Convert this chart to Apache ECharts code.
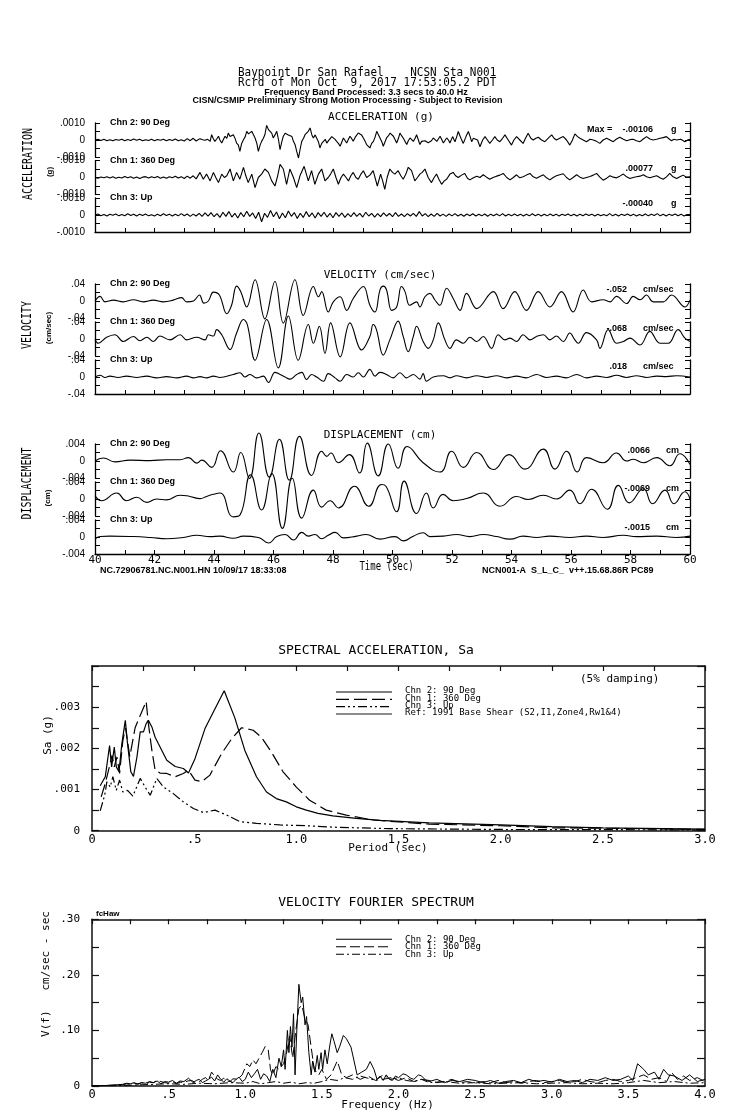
<!DOCTYPE html>
<html><head><meta charset="utf-8">
<script src="https://cdn.jsdelivr.net/npm/echarts/dist/echarts.min.js"></script>
<style>html,body{margin:0;padding:0;background:#fff}#c{width:739px;height:1115px}</style>
</head><body><div id="c"></div>
<script>
// ---------------- DATA ----------------
// acceleration in 1e-5 g
const accChn2 = [[40.0,0],[40.1,4],[40.2,-3],[40.3,5],[40.4,-4],[40.5,2],[40.6,-5],[40.7,3],[40.8,-2],[40.9,5],[41.0,-4],[41.1,3],[41.2,-3],[41.3,6],[41.4,-2],[41.5,4],[41.6,-5],[41.7,2],[41.8,-3],[41.9,5],[42.0,-4],[42.1,3],[42.2,-2],[42.3,4],[42.4,-5],[42.5,3],[42.6,-3],[42.7,6],[42.8,-4],[42.9,2],[43.0,-6],[43.1,8],[43.2,-4],[43.3,10],[43.4,-6],[43.53,8],[43.62,2],[43.7,-2],[43.79,4],[43.87,-8],[43.92,31],[43.97,10],[44.03,-8],[44.09,6],[44.15,22],[44.2,0],[44.26,-18],[44.32,4],[44.37,22],[44.43,10],[44.48,41],[44.54,20],[44.59,12],[44.65,31],[44.71,8],[44.76,-18],[44.82,-30],[44.87,-67],[44.93,-20],[44.99,2],[45.05,20],[45.1,51],[45.16,36],[45.21,31],[45.27,51],[45.33,30],[45.38,12],[45.44,-20],[45.49,-67],[45.55,-30],[45.6,-8],[45.66,10],[45.71,31],[45.77,86],[45.83,61],[45.88,71],[45.94,40],[45.99,12],[46.05,30],[46.11,51],[46.17,0],[46.22,-57],[46.28,-10],[46.33,22],[46.39,40],[46.44,51],[46.5,30],[46.56,41],[46.62,20],[46.67,-8],[46.73,-30],[46.78,-67],[46.84,-106],[46.9,-50],[46.95,-8],[47.01,10],[47.06,31],[47.12,40],[47.17,51],[47.23,71],[47.29,30],[47.34,12],[47.4,30],[47.45,22],[47.51,-10],[47.56,-47],[47.62,-20],[47.68,-8],[47.74,4],[47.79,-18],[47.85,-4],[47.9,2],[47.96,20],[48.01,12],[48.07,4],[48.12,-8],[48.18,-20],[48.24,-37],[48.3,-10],[48.35,12],[48.41,-4],[48.46,-18],[48.52,4],[48.57,22],[48.63,8],[48.68,-8],[48.76,20],[48.85,41],[48.91,51],[48.96,30],[49.02,12],[49.08,-8],[49.13,-27],[49.19,-30],[49.24,-47],[49.3,-20],[49.36,-8],[49.42,20],[49.47,51],[49.53,30],[49.58,22],[49.64,-10],[49.69,-37],[49.75,-10],[49.8,12],[49.86,24],[49.92,41],[49.97,30],[50.03,22],[50.08,4],[50.14,-18],[50.2,10],[50.25,41],[50.31,24],[50.36,12],[50.42,-8],[50.48,-27],[50.53,-4],[50.59,12],[50.65,4],[50.7,-8],[50.76,10],[50.81,31],[50.87,0],[50.92,-27],[50.98,-8],[51.04,2],[51.09,-4],[51.15,-8],[51.2,-16],[51.26,-27],[51.31,-4],[51.37,12],[51.43,4],[51.49,-8],[51.54,6],[51.6,22],[51.65,4],[51.71,-18],[51.76,-4],[51.82,12],[51.88,0],[51.93,-18],[52.02,20],[52.1,-10],[52.16,20],[52.21,50],[52.3,10],[52.38,-20],[52.47,20],[52.55,50],[52.61,20],[52.66,-10],[52.72,10],[52.77,20],[52.86,0],[52.94,-40],[53.03,0],[53.11,20],[53.19,0],[53.27,-20],[53.36,0],[53.44,20],[53.52,0],[53.61,-10],[53.7,10],[53.78,30],[53.89,0],[54.0,-30],[54.08,0],[54.17,20],[54.28,0],[54.39,-20],[54.47,10],[54.56,40],[54.65,10],[54.73,0],[54.82,10],[54.9,16],[55.01,0],[55.12,-10],[55.23,10],[55.35,30],[55.43,10],[55.51,0],[55.62,10],[55.74,20],[55.85,0],[55.96,-30],[56.05,0],[56.13,36],[56.22,20],[56.3,10],[56.41,0],[56.52,-10],[56.64,4],[56.75,0],[56.86,-8],[56.97,-20],[57.08,0],[57.2,10],[57.31,0],[57.42,-10],[57.53,6],[57.64,16],[57.76,4],[57.87,-4],[57.98,2],[58.09,4],[58.2,-4],[58.32,-10],[58.43,6],[58.54,20],[58.65,6],[58.76,0],[58.88,4],[58.99,10],[59.1,14],[59.21,20],[59.3,6],[59.38,-4],[59.46,4],[59.55,0],[59.69,4],[59.83,-10],[59.92,0],[60.0,4]];
const accChn1 = [[40.0,0],[40.1,-4],[40.2,3],[40.3,-2],[40.4,5],[40.5,-3],[40.6,4],[40.7,-5],[40.8,2],[40.9,-3],[41.0,6],[41.1,-2],[41.2,4],[41.3,-4],[41.4,3],[41.5,-6],[41.6,2],[41.7,5],[41.8,-3],[41.9,4],[42.0,-2],[42.1,6],[42.2,-4],[42.3,3],[42.4,-5],[42.5,4],[42.6,-2],[42.7,7],[42.8,-3],[42.9,5],[43.0,-6],[43.1,8],[43.2,-4],[43.3,10],[43.4,-8],[43.53,30],[43.64,-10],[43.75,20],[43.87,-20],[43.98,30],[44.06,0],[44.15,-30],[44.26,20],[44.35,0],[44.43,10],[44.54,50],[44.65,-20],[44.76,30],[44.87,-10],[44.99,60],[45.07,10],[45.15,-30],[45.27,20],[45.38,-60],[45.49,0],[45.6,20],[45.71,50],[45.83,30],[45.94,-20],[46.05,-50],[46.14,10],[46.22,77],[46.33,50],[46.44,-40],[46.55,50],[46.67,0],[46.78,-60],[46.89,10],[47.03,66],[47.17,-20],[47.28,40],[47.39,-40],[47.51,20],[47.62,50],[47.73,-20],[47.84,0],[47.92,20],[48.01,50],[48.1,0],[48.18,-40],[48.27,0],[48.35,20],[48.44,0],[48.52,-20],[48.6,10],[48.68,30],[48.77,0],[48.85,-10],[48.94,20],[49.02,40],[49.13,0],[49.24,14],[49.35,40],[49.49,-50],[49.6,20],[49.67,-20],[49.74,-70],[49.82,0],[49.91,50],[50.0,30],[50.08,20],[50.19,40],[50.28,10],[50.36,-10],[50.45,20],[50.53,60],[50.64,40],[50.75,-20],[50.84,0],[50.92,20],[51.0,30],[51.09,50],[51.2,0],[51.31,-30],[51.4,0],[51.48,20],[51.56,-10],[51.65,-40],[51.74,-20],[51.82,-10],[51.93,20],[52.04,30],[52.12,10],[52.21,0],[52.32,14],[52.43,24],[52.52,-4],[52.6,-14],[52.72,-2],[52.83,8],[52.94,0],[53.05,16],[53.16,2],[53.27,-10],[53.38,0],[53.5,8],[53.61,14],[53.72,24],[53.84,0],[53.95,-14],[54.06,0],[54.17,16],[54.28,-2],[54.39,4],[54.5,14],[54.62,24],[54.73,4],[54.84,-4],[54.95,6],[55.07,16],[55.18,-2],[55.29,-14],[55.4,0],[55.51,10],[55.62,16],[55.74,22],[55.85,0],[55.96,-14],[56.07,0],[56.19,16],[56.3,2],[56.41,-6],[56.52,0],[56.64,6],[56.75,14],[56.86,24],[56.97,2],[57.08,-16],[57.2,-4],[57.31,10],[57.42,2],[57.53,-2],[57.64,8],[57.76,20],[57.87,4],[57.98,-6],[58.09,0],[58.2,4],[58.32,8],[58.43,16],[58.54,4],[58.65,-2],[58.76,4],[58.88,10],[58.99,-2],[59.1,-10],[59.21,4],[59.32,24],[59.43,4],[59.55,-6],[59.66,4],[59.77,14],[59.88,2],[60.0,4]];
const accChn3 = [[40.0,0],[40.1,6],[40.2,-4],[40.3,3],[40.4,-6],[40.5,4],[40.6,-2],[40.7,6],[40.8,-5],[40.9,3],[41.0,-4],[41.1,7],[41.2,-3],[41.3,4],[41.4,-6],[41.5,5],[41.6,-3],[41.7,6],[41.8,-5],[41.9,2],[42.0,-6],[42.1,5],[42.2,-4],[42.3,7],[42.4,-3],[42.5,5],[42.6,-6],[42.7,4],[42.8,-5],[42.9,8],[43.0,-4],[43.1,6],[43.2,-8],[43.3,5],[43.4,-6],[43.5,10],[43.6,-8],[43.7,12],[43.8,-6],[43.9,14],[44.0,-10],[44.1,8],[44.2,-14],[44.3,16],[44.4,-8],[44.5,20],[44.6,-12],[44.7,10],[44.8,-18],[44.9,14],[45.0,-10],[45.1,22],[45.2,-8],[45.3,12],[45.4,-20],[45.5,16],[45.6,-40],[45.7,10],[45.8,-14],[45.9,26],[46.0,-10],[46.1,18],[46.2,-22],[46.3,12],[46.4,-16],[46.5,24],[46.6,-8],[46.7,14],[46.8,-20],[46.9,10],[47.0,-14],[47.1,20],[47.2,-10],[47.3,12],[47.4,-18],[47.5,14],[47.6,-8],[47.7,16],[47.8,-12],[47.9,10],[48.0,-16],[48.1,14],[48.2,-8],[48.3,12],[48.4,-14],[48.5,8],[48.6,-10],[48.7,14],[48.8,-8],[48.9,10],[49.0,-12],[49.1,16],[49.2,-6],[49.3,10],[49.4,-12],[49.5,8],[49.6,-10],[49.7,12],[49.8,-6],[49.9,9],[50.0,-10],[50.1,14],[50.2,-8],[50.3,6],[50.4,-10],[50.5,8],[50.6,-6],[50.7,10],[50.8,-8],[50.9,20],[51.0,-6],[51.1,8],[51.2,-10],[51.3,6],[51.4,-8],[51.5,10],[51.6,-6],[51.7,5],[51.8,-8],[51.9,6],[52.0,-5],[52.1,8],[52.2,-6],[52.3,4],[52.4,-7],[52.5,6],[52.6,-4],[52.7,7],[52.8,-6],[52.9,4],[53.0,-5],[53.1,6],[53.2,-7],[53.3,5],[53.4,-4],[53.5,6],[53.6,-5],[53.7,8],[53.8,-6],[53.9,4],[54.0,-5],[54.1,6],[54.2,-4],[54.3,5],[54.4,-6],[54.5,4],[54.6,-5],[54.7,7],[54.8,-4],[54.9,5],[55.0,-6],[55.1,4],[55.2,-5],[55.3,6],[55.4,-4],[55.5,5],[55.6,-6],[55.7,4],[55.8,-3],[55.9,6],[56.0,-5],[56.1,4],[56.2,-6],[56.3,5],[56.4,-4],[56.5,6],[56.6,-3],[56.7,5],[56.8,-6],[56.9,4],[57.0,-5],[57.1,3],[57.2,-4],[57.3,8],[57.4,-5],[57.5,4],[57.6,-6],[57.7,5],[57.8,-3],[57.9,6],[58.0,-4],[58.1,5],[58.2,-6],[58.3,3],[58.4,-4],[58.5,6],[58.6,-5],[58.7,4],[58.8,-3],[58.9,8],[59.0,-5],[59.1,4],[59.2,-6],[59.3,5],[59.4,-3],[59.5,6],[59.6,-4],[59.7,5],[59.8,-6],[59.9,3],[60.0,2]];
// velocity in 1e-3 cm/sec
const velChn2 = [[40.0,0],[40.17,11],[40.34,-2],[40.62,2],[40.95,-2],[41.29,3],[41.62,-2],[41.96,2],[42.3,-2],[42.63,2],[42.91,8],[43.08,-2],[43.31,0],[43.51,14],[43.66,-5],[43.81,0],[43.98,21],[44.18,14],[44.43,-30],[44.59,-10],[44.76,35],[44.9,22],[45.1,-14],[45.38,50],[45.71,-42],[46.05,46],[46.33,-52],[46.72,50],[47.0,-34],[47.34,34],[47.51,10],[47.62,22],[47.84,-26],[48.01,-2],[48.24,10],[48.46,-22],[48.68,6],[49.02,34],[49.24,-10],[49.41,-26],[49.58,26],[49.69,35],[49.8,26],[49.97,-22],[50.14,-14],[50.3,34],[50.42,22],[50.58,-10],[50.81,-2],[50.92,-14],[51.09,10],[51.26,18],[51.42,3],[51.59,-10],[51.82,30],[52.04,6],[52.27,-22],[52.49,18],[52.83,-18],[53.39,22],[53.72,-18],[54.11,22],[54.5,-22],[54.9,22],[55.29,-14],[55.68,22],[56.07,-26],[56.41,26],[56.69,-2],[57.08,3],[57.31,-2],[57.53,11],[57.87,-6],[58.09,11],[58.32,3],[58.54,14],[58.76,-2],[59.1,-2],[59.38,14],[59.83,-14],[60.0,2]];
const velChn1 = [[40.0,-1],[40.11,-10],[40.39,4],[40.67,10],[40.95,-6],[41.29,6],[41.51,-4],[41.74,4],[41.96,-6],[42.18,7],[42.52,-2],[42.86,10],[43.08,-2],[43.42,4],[43.7,-2],[43.81,10],[43.98,7],[44.09,22],[44.26,10],[44.54,-25],[44.76,14],[44.99,46],[45.12,34],[45.38,-50],[45.77,46],[46.16,-68],[46.5,54],[46.83,-50],[47.17,34],[47.34,-10],[47.54,30],[47.73,-34],[47.92,38],[48.24,-42],[48.57,38],[48.96,-26],[49.24,6],[49.35,34],[49.46,22],[49.69,-38],[49.91,-2],[50.19,42],[50.36,6],[50.53,-30],[50.7,6],[50.81,30],[51.03,-6],[51.2,-22],[51.37,-2],[51.54,38],[51.76,-2],[51.93,-22],[52.15,-2],[52.38,-10],[52.6,4],[52.83,-6],[53.05,6],[53.33,-22],[53.55,10],[53.78,-2],[53.95,2],[54.17,-6],[54.39,10],[54.62,-2],[54.84,6],[55.07,10],[55.29,-2],[55.51,7],[55.74,-6],[55.96,14],[56.13,-2],[56.24,-10],[56.52,15],[56.86,-2],[56.97,-22],[57.25,22],[57.53,-10],[57.76,-6],[57.98,2],[58.32,-14],[58.65,18],[58.99,-10],[59.27,-10],[59.6,22],[59.83,2],[60.0,-6]];
const velChn3 = [[40.0,0],[40.17,4],[40.34,-1],[40.5,2],[40.78,-1],[41.06,2],[41.4,-1],[41.74,2],[42.07,-2],[42.41,1],[42.75,-2],[43.08,2],[43.31,-2],[43.53,1],[43.75,-2],[43.98,2],[44.2,-1],[44.65,6],[44.87,10],[45.04,0],[45.21,6],[45.43,-2],[45.66,2],[45.83,-13],[46.05,11],[46.22,6],[46.39,0],[46.55,-5],[46.78,6],[46.95,11],[47.11,-6],[47.28,6],[47.45,0],[47.68,-10],[47.84,8],[48.07,-2],[48.24,-10],[48.46,6],[48.68,0],[48.85,10],[49.02,0],[49.24,18],[49.41,2],[49.58,11],[49.8,6],[50.02,-2],[50.25,10],[50.47,-2],[50.7,6],[50.92,-5],[51.03,8],[51.14,-10],[51.37,0],[51.71,3],[51.93,-2],[52.15,3],[52.49,-2],[52.83,3],[53.16,-1],[53.5,3],[53.83,-2],[54.17,2],[54.5,-2],[54.84,6],[55.18,-1],[55.51,2],[55.85,-2],[56.19,6],[56.52,-2],[56.86,2],[57.2,-1],[57.53,4],[57.87,-1],[58.2,3],[58.54,-1],[58.88,2],[59.21,1],[59.55,3],[60.0,0]];
// displacement in 1e-4 cm
const dispChn2 = [[40.0,0],[40.28,7],[40.67,-2],[41.18,2],[41.85,1],[42.41,3],[42.86,3],[43.14,8],[43.42,-5],[43.59,2],[43.92,-15],[44.22,24],[44.65,-26],[44.9,20],[45.19,-41],[45.51,66],[45.86,-38],[46.2,51],[46.53,-45],[46.87,58],[47.28,-34],[47.62,23],[47.79,11],[47.93,19],[48.18,-4],[48.55,15],[48.89,-28],[49.15,42],[49.52,-35],[49.86,40],[50.19,-17],[50.49,34],[51.03,-4],[51.59,-26],[51.99,23],[52.38,-15],[52.83,20],[53.39,-20],[53.92,15],[54.45,-19],[55.07,28],[55.46,-19],[55.85,23],[56.21,-26],[56.52,8],[57.08,-4],[57.53,19],[57.87,0],[58.09,4],[58.43,-4],[58.88,8],[59.32,-11],[59.66,17],[60.0,-8]];
const dispChn1 = [[40.0,8],[40.22,-4],[40.73,14],[41.06,-4],[41.4,4],[41.74,-8],[42.07,0],[42.41,-2],[42.86,9],[43.19,6],[43.53,1],[43.75,6],[43.98,11],[44.2,14],[44.65,-42],[44.87,-38],[45.23,57],[45.6,-26],[45.94,60],[46.3,-69],[46.63,49],[46.95,-45],[47.34,21],[47.62,-19],[47.9,-4],[48.18,-21],[48.72,30],[49.2,-17],[49.63,34],[49.78,30],[50.14,-30],[50.39,42],[50.81,-34],[51.14,14],[51.37,-21],[51.7,11],[52.04,-4],[52.49,1],[53.05,14],[53.61,-17],[54.17,6],[54.56,-1],[55.07,9],[55.51,0],[55.96,21],[56.3,-11],[56.69,23],[57.22,-24],[57.59,32],[57.96,-9],[58.43,24],[58.74,-11],[59.16,21],[59.46,-11],[59.83,17],[60.0,0]];
const dispChn3 = [[40.0,-5],[40.17,1],[40.5,2],[41.29,1],[41.85,-1],[42.41,-4],[42.97,-1],[43.42,4],[43.87,1],[44.2,2],[44.65,-3],[44.99,2],[45.49,-1],[45.83,-14],[46.11,1],[46.39,6],[46.67,-7],[46.95,11],[47.17,2],[47.39,6],[47.62,-4],[47.84,4],[48.07,11],[48.35,-2],[48.8,2],[49.1,6],[49.58,-5],[50.08,1],[50.36,-9],[50.7,2],[51.03,10],[51.26,1],[51.71,2],[52.15,6],[52.6,1],[53.05,6],[53.5,1],[53.95,-5],[54.39,2],[54.84,-1],[55.29,2],[55.96,-1],[56.52,2],[57.08,-1],[57.76,4],[58.2,1],[58.88,2],[59.55,-1],[60.0,2]];
// spectral acceleration [period s, Sa g]
const saChn2 = [[0.04,0.00109],[0.065,0.00131],[0.086,0.00207],[0.096,0.00155],[0.109,0.00203],[0.119,0.00155],[0.132,0.00143],[0.146,0.00211],[0.163,0.00268],[0.174,0.00211],[0.19,0.00143],[0.203,0.00132],[0.22,0.00179],[0.236,0.0024],[0.252,0.0024],[0.265,0.0026],[0.276,0.00268],[0.293,0.00252],[0.309,0.00227],[0.325,0.00211],[0.366,0.00171],[0.407,0.00156],[0.447,0.00151],[0.472,0.0014],[0.504,0.00175],[0.553,0.00248],[0.602,0.00296],[0.647,0.0034],[0.699,0.00274],[0.748,0.00195],[0.805,0.00131],[0.854,0.00094],[0.902,0.00078],[0.951,0.0007],[1.0,0.00058],[1.049,0.0005],[1.106,0.00042],[1.179,0.00036],[1.293,0.0003],[1.41,0.00025],[1.65,0.00019],[2.0,0.00014],[2.25,0.0001],[2.5,0.00007],[3.0,0.00004]];
const saChn1 = [[0.045,0.00082],[0.065,0.00115],[0.081,0.00147],[0.098,0.00183],[0.109,0.00155],[0.122,0.00179],[0.135,0.00139],[0.151,0.00219],[0.164,0.0025],[0.185,0.0018],[0.211,0.0025],[0.236,0.0028],[0.265,0.00314],[0.276,0.0026],[0.293,0.00195],[0.309,0.00147],[0.333,0.0014],[0.366,0.00139],[0.407,0.00131],[0.447,0.00139],[0.472,0.00147],[0.504,0.00123],[0.537,0.00119],[0.577,0.00135],[0.634,0.00187],[0.683,0.00223],[0.732,0.0025],[0.789,0.00244],[0.829,0.00227],[0.878,0.00191],[0.935,0.00143],[1.0,0.00106],[1.065,0.00074],[1.146,0.0005],[1.244,0.00038],[1.374,0.00026],[1.65,0.00016],[2.0,0.00012],[2.25,0.00007],[2.5,0.00006],[3.0,0.00003]];
const saChn3 = [[0.04,0.00048],[0.062,0.00086],[0.073,0.00119],[0.089,0.00106],[0.102,0.00131],[0.119,0.00098],[0.135,0.00123],[0.151,0.00094],[0.174,0.00098],[0.2,0.00084],[0.236,0.00127],[0.26,0.00106],[0.285,0.00086],[0.317,0.00127],[0.35,0.00106],[0.398,0.0009],[0.447,0.0007],[0.496,0.00054],[0.545,0.00044],[0.602,0.0005],[0.659,0.00038],[0.724,0.00022],[0.805,0.00018],[0.919,0.00014],[1.049,0.00012],[1.211,0.00008],[1.455,0.00005],[2.0,0.00003],[3.0,0.00002]];
// velocity Fourier spectrum [Hz, cm/sec-sec]
const fasChn2 = [[0,0],[0.05,0.0005],[0.1,0.001],[0.15,0.002],[0.2,0.003],[0.225,0.005],[0.25,0.004],[0.275,0.006],[0.3,0.003],[0.325,0.006],[0.35,0.005],[0.375,0.008],[0.4,0.006],[0.425,0.009],[0.45,0.004],[0.475,0.008],[0.5,0.007],[0.525,0.01],[0.55,0.005],[0.575,0.009],[0.6,0.008],[0.63,0.014],[0.66,0.006],[0.68,0.01],[0.7,0.012],[0.72,0.006],[0.74,0.009],[0.76,0.012],[0.78,0.016],[0.8,0.009],[0.82,0.02],[0.84,0.012],[0.86,0.007],[0.88,0.013],[0.9,0.009],[0.92,0.006],[0.94,0.012],[0.96,0.016],[0.98,0.008],[1.0,0.012],[1.02,0.025],[1.04,0.015],[1.06,0.022],[1.08,0.03],[1.1,0.012],[1.12,0.022],[1.14,0.018],[1.16,0.008],[1.18,0.03],[1.2,0.015],[1.22,0.05],[1.235,0.035],[1.25,0.065],[1.26,0.03],[1.275,0.1],[1.285,0.06],[1.295,0.107],[1.305,0.07],[1.315,0.13],[1.325,0.02],[1.335,0.09],[1.35,0.183],[1.365,0.15],[1.375,0.16],[1.39,0.11],[1.4,0.125],[1.415,0.06],[1.43,0.02],[1.44,0.045],[1.455,0.025],[1.47,0.055],[1.48,0.03],[1.495,0.06],[1.505,0.03],[1.52,0.065],[1.535,0.04],[1.55,0.07],[1.565,0.094],[1.58,0.08],[1.6,0.06],[1.615,0.07],[1.64,0.091],[1.66,0.085],[1.69,0.07],[1.71,0.045],[1.73,0.02],[1.76,0.025],[1.79,0.03],[1.815,0.044],[1.84,0.03],[1.86,0.012],[1.88,0.018],[1.9,0.01],[1.92,0.02],[1.94,0.012],[1.96,0.01],[1.98,0.018],[2.0,0.015],[2.03,0.022],[2.05,0.02],[2.08,0.014],[2.1,0.012],[2.13,0.02],[2.15,0.018],[2.18,0.01],[2.2,0.008],[2.25,0.012],[2.3,0.006],[2.35,0.01],[2.4,0.008],[2.45,0.012],[2.5,0.01],[2.55,0.006],[2.6,0.01],[2.65,0.005],[2.7,0.008],[2.75,0.01],[2.8,0.006],[2.85,0.012],[2.9,0.008],[2.95,0.01],[3.0,0.007],[3.05,0.012],[3.1,0.008],[3.15,0.01],[3.2,0.006],[3.25,0.012],[3.3,0.01],[3.35,0.015],[3.4,0.01],[3.45,0.012],[3.5,0.018],[3.53,0.01],[3.56,0.04],[3.6,0.03],[3.63,0.02],[3.67,0.025],[3.7,0.012],[3.73,0.03],[3.76,0.02],[3.8,0.018],[3.85,0.01],[3.9,0.02],[3.95,0.008],[4.0,0.012]];
const fasChn1 = [[0,0],[0.05,0.0005],[0.1,0.001],[0.15,0.0015],[0.2,0.002],[0.225,0.004],[0.25,0.003],[0.275,0.005],[0.3,0.004],[0.325,0.006],[0.35,0.003],[0.375,0.007],[0.4,0.006],[0.425,0.01],[0.45,0.008],[0.475,0.006],[0.5,0.005],[0.525,0.008],[0.55,0.004],[0.575,0.007],[0.6,0.006],[0.625,0.009],[0.65,0.01],[0.675,0.006],[0.7,0.008],[0.72,0.012],[0.74,0.015],[0.76,0.01],[0.78,0.025],[0.8,0.018],[0.82,0.012],[0.84,0.01],[0.86,0.014],[0.88,0.009],[0.9,0.008],[0.92,0.013],[0.95,0.012],[0.98,0.02],[1.01,0.04],[1.03,0.035],[1.05,0.047],[1.07,0.04],[1.09,0.05],[1.11,0.06],[1.13,0.071],[1.15,0.065],[1.165,0.029],[1.18,0.02],[1.2,0.035],[1.22,0.03],[1.25,0.04],[1.27,0.06],[1.29,0.09],[1.31,0.05],[1.33,0.1],[1.35,0.14],[1.37,0.145],[1.39,0.12],[1.41,0.11],[1.43,0.07],[1.45,0.03],[1.48,0.02],[1.5,0.03],[1.53,0.012],[1.56,0.02],[1.6,0.045],[1.63,0.02],[1.66,0.015],[1.7,0.02],[1.75,0.012],[1.8,0.018],[1.85,0.01],[1.9,0.012],[1.95,0.015],[2.0,0.01],[2.05,0.015],[2.1,0.008],[2.15,0.012],[2.2,0.01],[2.25,0.006],[2.3,0.008],[2.35,0.012],[2.4,0.006],[2.45,0.008],[2.5,0.005],[2.55,0.008],[2.6,0.006],[2.65,0.01],[2.7,0.006],[2.75,0.008],[2.8,0.005],[2.85,0.008],[2.9,0.01],[2.95,0.006],[3.0,0.008],[3.05,0.01],[3.1,0.006],[3.15,0.008],[3.2,0.012],[3.25,0.008],[3.3,0.006],[3.35,0.01],[3.4,0.012],[3.45,0.008],[3.5,0.01],[3.55,0.015],[3.6,0.02],[3.65,0.012],[3.7,0.015],[3.75,0.008],[3.78,0.025],[3.82,0.012],[3.86,0.018],[3.9,0.01],[3.95,0.015],[4.0,0.008]];
const fasChn3 = [[0,0],[0.1,0.0005],[0.2,0.001],[0.3,0.002],[0.4,0.003],[0.5,0.004],[0.6,0.003],[0.7,0.005],[0.8,0.004],[0.9,0.006],[1.0,0.005],[1.05,0.008],[1.1,0.004],[1.15,0.006],[1.2,0.008],[1.25,0.005],[1.3,0.007],[1.35,0.004],[1.4,0.006],[1.45,0.005],[1.5,0.008],[1.55,0.012],[1.6,0.01],[1.65,0.015],[1.7,0.012],[1.75,0.018],[1.8,0.014],[1.85,0.01],[1.9,0.02],[1.95,0.012],[2.0,0.015],[2.05,0.01],[2.1,0.008],[2.15,0.012],[2.2,0.006],[2.3,0.008],[2.4,0.005],[2.5,0.006],[2.6,0.004],[2.7,0.005],[2.8,0.006],[2.9,0.004],[3.0,0.005],[3.1,0.006],[3.2,0.004],[3.3,0.005],[3.4,0.004],[3.5,0.006],[3.6,0.01],[3.7,0.006],[3.8,0.008],[3.9,0.005],[4.0,0.006]];

const channelNames = ['Chn 2: 90 Deg', 'Chn 1: 360 Deg', 'Chn 3: Up'];
const refName = 'Ref: 1991 Base Shear (S2,I1,Zone4,Rw1&4)';
const accPeaks = ['-.00106', '.00077', '-.00040'];
const velPeaks = ['-.052', '-.068', '.018'];
const dispPeaks = ['.0066', '-.0069', '-.0015'];
const accTickLabels = {'100': '.0010', '0': '0', '-100': '-.0010'};
const velTickLabels = {'40': '.04', '0': '0', '-40': '-.04'};
const dispTickLabels = {'40': '.004', '0': '0', '-40': '-.004'};
const timeTickLabels = [40, 42, 44, 46, 48, 50, 52, 54, 56, 58, 60];
const saXLabels = {0: '0', 50: '.5', 100: '1.0', 150: '1.5', 200: '2.0', 250: '2.5', 300: '3.0'};
const saYLabels = {0: '0', 10: '.001', 20: '.002', 30: '.003'};
const fasXLabels = {0: '0', 50: '.5', 100: '1.0', 150: '1.5', 200: '2.0', 250: '2.5', 300: '3.0', 350: '3.5', 400: '4.0'};
const fasYLabels = {0: '0', 10: '.10', 20: '.20', 30: '.30'};

// ---------------- CHART ----------------
const MONO = '"DejaVu Sans Mono", "Liberation Mono", monospace';
const SANS = '"Liberation Sans", Arial, sans-serif';
const chart = echarts.init(document.getElementById('c'), null, {renderer: 'canvas'});
const grids = [], xAxes = [], yAxes = [], series = [], graphic = [];
const AX = {color: '#000', width: 1.3};

const panels = [
  {tops: [123, 160.5, 198], lim: 100, traces: [accChn2, accChn1, accChn3], ylab: accTickLabels, smooth: false, xlab: false},
  {tops: [284, 322, 360], lim: 40, traces: [velChn2, velChn1, velChn3], ylab: velTickLabels, smooth: 0.4, xlab: false},
  {tops: [444, 482, 520], lim: 40, traces: [dispChn2, dispChn1, dispChn3], ylab: dispTickLabels, smooth: 0.5, xlab: true}
];
let gi = 0;
panels.forEach(p => p.tops.forEach((top, k) => {
  grids.push({left: 95, width: 595, top: top, height: 34});
  const bottom = k === 2;
  xAxes.push({type: 'value', gridIndex: gi, min: 40, max: 60, interval: 1, show: bottom,
    axisLine: {show: true, onZero: false, lineStyle: AX},
    axisTick: {show: true, inside: true, length: 4, lineStyle: {color: '#000', width: 1}},
    axisLabel: {show: p.xlab, margin: 1, color: '#000', fontFamily: MONO, fontSize: 11,
      formatter: v => timeTickLabels.includes(Math.round(v)) ? String(Math.round(v)) : ''},
    splitLine: {show: false}});
  const yBase = {type: 'value', gridIndex: gi, min: -p.lim, max: p.lim, interval: p.lim / 2,
    axisLine: {show: true, onZero: false, lineStyle: AX},
    axisTick: {show: true, inside: true, length: 5, lineStyle: {color: '#000', width: 1}},
    splitLine: {show: false}};
  yAxes.push(Object.assign({}, yBase, {position: 'left',
    axisLabel: {margin: 10, color: '#000', fontFamily: SANS, fontSize: 10,
      formatter: v => (p.ylab[String(Math.round(v))] ?? '')}}));
  yAxes.push(Object.assign({}, yBase, {position: 'right', axisLabel: {show: false}}));
  series.push({type: 'line', name: channelNames[k], xAxisIndex: gi, yAxisIndex: 2 * gi, data: p.traces[k],
    symbol: 'none', smooth: p.smooth, clip: false, silent: true, lineStyle: {color: '#000', width: 1.1}});
  gi++;
}));

// spectral panels
function specPanel(top, height, xmax, ymax, yint, xlab, ylab, yKey) {
  grids.push({left: 92, right: 34, top: top, height: height});
  const g = gi;
  xAxes.push({type: 'value', gridIndex: g, min: 0, max: xmax, interval: 0.25, position: 'bottom',
    axisLine: {show: true, onZero: false, lineStyle: {color: '#111', width: 1.5}},
    axisTick: {show: false},
    axisLabel: {margin: 3, color: '#000', fontFamily: MONO, fontSize: 12,
      formatter: v => (xlab[Math.round(v * 100)] ?? '')},
    splitLine: {show: false}});
  xAxes.push({type: 'value', gridIndex: g, min: 0, max: xmax, interval: 0.25, position: 'top',
    axisLine: {show: true, onZero: false, lineStyle: {color: '#111', width: 1.5}},
    axisTick: {show: true, inside: true, length: 5, lineStyle: {color: '#111', width: 1.2}},
    axisLabel: {show: false}, splitLine: {show: false}});
  yAxes.push({type: 'value', gridIndex: g, min: 0, max: ymax, interval: yint, position: 'left',
    axisLine: {show: true, onZero: false, lineStyle: {color: '#111', width: 1.5}},
    axisTick: {show: true, inside: true, length: 7, lineStyle: {color: '#111', width: 1.2}},
    axisLabel: {margin: 12, color: '#000', fontFamily: MONO, fontSize: 11,
      formatter: v => (ylab[Math.round(v * yKey)] ?? '')},
    splitLine: {show: false}});
  yAxes.push({type: 'value', gridIndex: g, min: 0, max: ymax, interval: yint, position: 'right',
    axisLine: {show: true, onZero: false, lineStyle: {color: '#111', width: 1.5}},
    axisTick: {show: true, inside: true, length: 8, lineStyle: {color: '#111', width: 1.2}},
    axisLabel: {show: false}, splitLine: {show: false}});
  gi++;
  return g;
}
const gSa = specPanel(666, 164.7, 3, 0.004, 0.0005, saXLabels, saYLabels, 10000);
const gFa = specPanel(919.3, 166.7, 4, 0.30, 0.05, fasXLabels, fasYLabels, 100);
const xIdx = g => 9 + (g - 9) * 2;
const yIdx = g => 18 + (g - 9) * 2;

const saStyles = [{type: 'solid'}, {type: [13, 5]}, {type: [9, 3, 2, 3, 2, 3]}];
[saChn2, saChn1, saChn3].forEach((d, k) => series.push({type: 'line', name: channelNames[k], xAxisIndex: xIdx(gSa), yAxisIndex: yIdx(gSa),
  data: d, symbol: 'none', silent: true, lineStyle: Object.assign({color: '#000', width: 1.2}, saStyles[k])}));
series.push({type: 'line', name: refName, xAxisIndex: xIdx(gSa), yAxisIndex: yIdx(gSa), data: [], symbol: 'none'});
const faStyles = [{type: 'solid'}, {type: [10, 4]}, {type: [8, 3, 2, 3]}];
[fasChn2, fasChn1, fasChn3].forEach((d, k) => series.push({type: 'line', name: channelNames[k], xAxisIndex: xIdx(gFa), yAxisIndex: yIdx(gFa),
  data: d, symbol: 'none', silent: true, lineStyle: Object.assign({color: '#000', width: 1}, faStyles[k])}));

// ---------------- TEXT ----------------
function txt(text, x, y, font, align, extra) {
  return Object.assign({type: 'text', x: x, y: y, silent: true, z: 10,
    style: {text: text, font: font, fill: '#000', align: align || 'left', verticalAlign: 'middle',
      textAlign: align || 'left', textVerticalAlign: 'middle'}}, extra || {});
}
const B8 = 'bold 8px ' + SANS, B9 = 'bold 9px ' + SANS;
graphic.push(txt('Baypoint Dr San Rafael    NCSN Sta N001', 238, 72.7, '11px ' + MONO, 'left', {scaleY: 1.15}));
graphic.push(txt('Rcrd of Mon Oct  9, 2017 17:53:05.2 PDT', 238, 82.7, '11px ' + MONO, 'left', {scaleY: 1.15}));
graphic.push(txt('Frequency Band Processed: 3.3 secs to 40.0 Hz', 366, 92.3, B9, 'center'));
graphic.push(txt('CISN/CSMIP Preliminary Strong Motion Processing - Subject to Revision', 347.5, 100.7, B9, 'center'));
graphic.push(txt('ACCELERATION (g)', 381, 116.7, '11px ' + MONO, 'center'));
graphic.push(txt('VELOCITY (cm/sec)', 380, 275, '11px ' + MONO, 'center'));
graphic.push(txt('DISPLACEMENT (cm)', 380, 435.5, '11px ' + MONO, 'center'));
const rot = {rotation: Math.PI / 2};
graphic.push(txt('ACCELERATION', 28, 164, '10px ' + MONO, 'center', {rotation: Math.PI / 2, scaleY: 1.35}));
graphic.push(txt('(g)', 50, 172, B8, 'center', rot));
graphic.push(txt('VELOCITY', 27, 325, '10px ' + MONO, 'center', {rotation: Math.PI / 2, scaleY: 1.35}));
graphic.push(txt('(cm/sec)', 48.5, 328, B8, 'center', rot));
graphic.push(txt('DISPLACEMENT', 27, 483.5, '10px ' + MONO, 'center', {rotation: Math.PI / 2, scaleY: 1.35}));
graphic.push(txt('(cm)', 48, 498, B8, 'center', rot));
panels.forEach(p => p.tops.forEach((top, k) => {
  graphic.push(txt(channelNames[k], 110, top, B9, 'left'));
}));
const accY = [130, 168.3, 204], velY = [290, 328.3, 366.7], dispY = [450.7, 489, 527.3];
graphic.push(txt('Max =', 587, 130, B9, 'left'));
accPeaks.forEach((s, k) => { graphic.push(txt(s, 653, accY[k], B9, 'right')); graphic.push(txt('g', 671, accY[k], B9, 'left')); });
velPeaks.forEach((s, k) => { graphic.push(txt(s, 627, velY[k], B9, 'right')); graphic.push(txt('cm/sec', 643, velY[k], B9, 'left')); });
dispPeaks.forEach((s, k) => { graphic.push(txt(s, 650, dispY[k], B9, 'right')); graphic.push(txt('cm', 666, dispY[k], B9, 'left')); });
graphic.push(txt('Time (sec)', 386.5, 566.7, '9px ' + MONO, 'center', {scaleY: 1.35}));
graphic.push(txt('NC.72906781.NC.N001.HN 10/09/17 18:33:08', 100, 571, B9, 'left'));
graphic.push(txt('NCN001-A  S_L_C_  v++.15.68.86R PC89', 482, 571, B9, 'left'));

graphic.push(txt('SPECTRAL ACCELERATION, Sa', 376, 651, '13px ' + MONO, 'center'));
graphic.push(txt('(5% damping)', 580, 679, '11px ' + MONO, 'left'));
graphic.push(txt('Sa (g)', 48, 735, '11px ' + MONO, 'center', rot));
graphic.push(txt('Period (sec)', 388, 848, '11px ' + MONO, 'center'));
const saLegY = [692, 699.3, 706.7, 714];
const saLegNames = channelNames.concat([refName]);
const saLegDash = [null, [13, 5], [9, 3, 2, 3, 2, 3], null];
saLegNames.forEach((n, k) => {
  graphic.push({type: 'line', silent: true, z: 10, shape: {x1: 336, y1: saLegY[k], x2: 392, y2: saLegY[k]},
    style: {stroke: k === 3 ? '#666' : '#000', lineWidth: k === 3 ? 1.6 : 1.2, lineDash: saLegDash[k]}});
  graphic.push(txt(n, 405, saLegY[k] - 1, '9px ' + MONO, 'left'));
});
graphic.push(txt('VELOCITY FOURIER SPECTRUM', 376, 903, '13px ' + MONO, 'center'));
graphic.push(txt('fcHaw', 96, 914, B8, 'left'));
graphic.push(txt('V(f)   cm/sec - sec', 46, 974, '11px ' + MONO, 'center', rot));
graphic.push(txt('Frequency (Hz)', 387.5, 1105, '11px ' + MONO, 'center'));
const faLegY = [939.3, 946.7, 954.3];
const faLegDash = [null, [10, 4], [8, 3, 2, 3]];
channelNames.forEach((n, k) => {
  graphic.push({type: 'line', silent: true, z: 10, shape: {x1: 336, y1: faLegY[k], x2: 392, y2: faLegY[k]},
    style: {stroke: '#000', lineWidth: 1.1, lineDash: faLegDash[k]}});
  graphic.push(txt(n, 405, faLegY[k], '9px ' + MONO, 'left'));
});

chart.setOption({
  animation: false,
  backgroundColor: '#fff',
  grid: grids, xAxis: xAxes, yAxis: yAxes, series: series, graphic: graphic
});
</script></body></html>
